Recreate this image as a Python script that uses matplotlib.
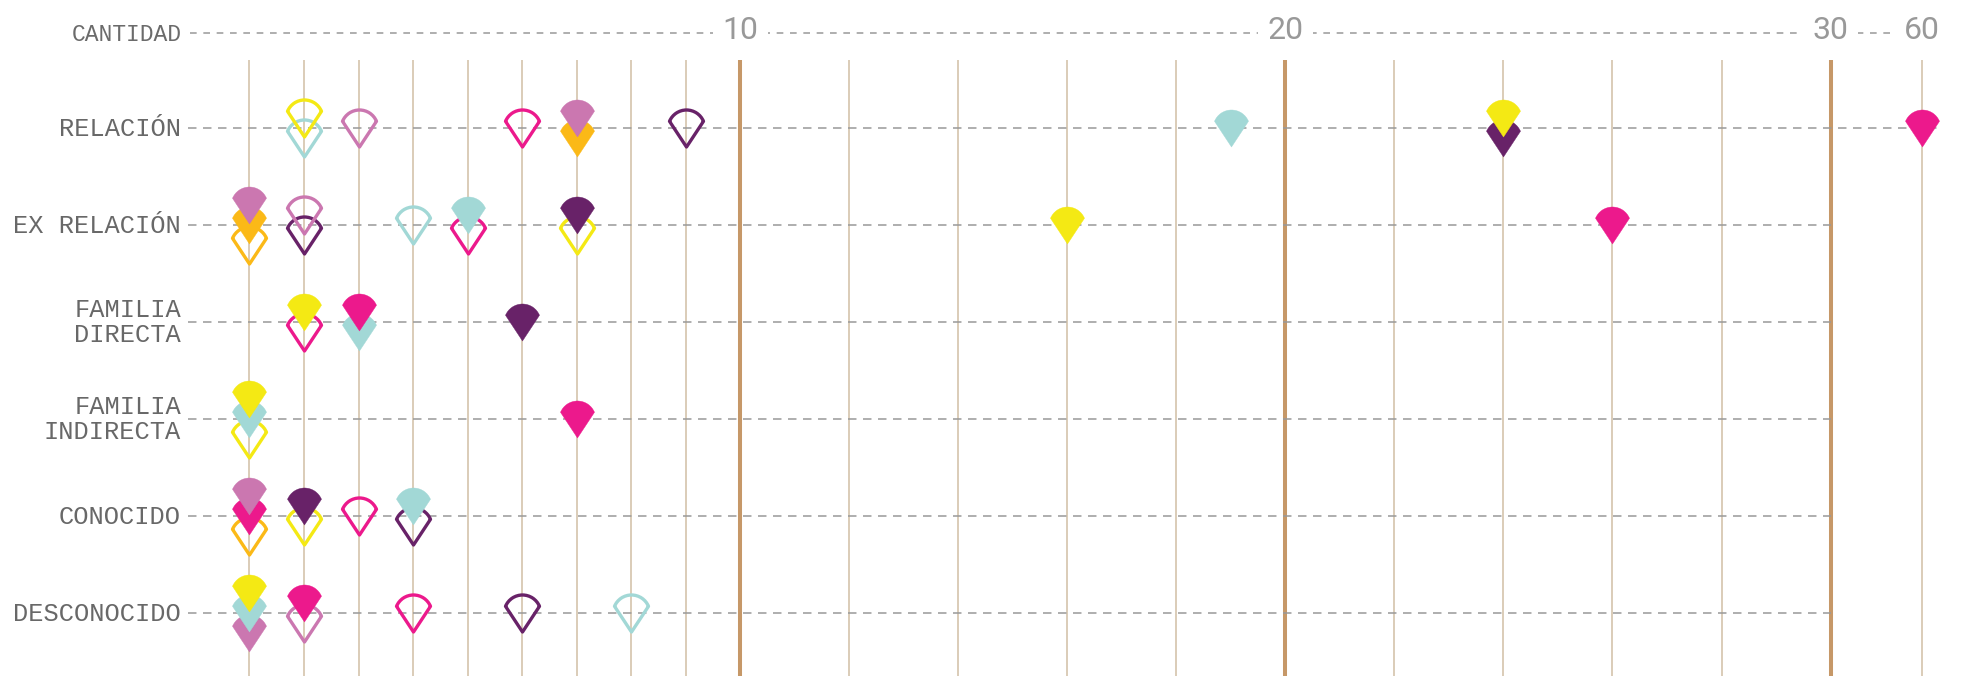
import numpy as np
import matplotlib
matplotlib.use("Agg")
import matplotlib.pyplot as plt
from matplotlib.path import Path

plt.rcParams["lines.scale_dashes"] = False

# ---- data -------------------------------------------------------------
categorias = ["RELACIÓN", "EX RELACIÓN", "FAMILIA\nDIRECTA",
              "FAMILIA\nINDIRECTA", "CONOCIDO", "DESCONOCIDO"]

colores = {
    "amarillo": "#f4e914",
    "naranja": "#fbb917",
    "fucsia": "#ec198c",
    "rosa": "#cb77b0",
    "turquesa": "#a2d8d6",
    "morado": "#682268",
}

# (cantidad, serie, relleno) -- within one value, listed from top of the stack to bottom
relacion = [(2, "amarillo", False), (2, "turquesa", False), (3, "rosa", False),
            (6, "fucsia", False), (7, "rosa", True), (7, "naranja", True),
            (9, "morado", False), (19, "turquesa", True), (24, "amarillo", True),
            (24, "morado", True), (60, "fucsia", True)]
ex_relacion = [(1, "rosa", True), (1, "naranja", True), (1, "naranja", False),
               (2, "rosa", False), (2, "morado", False), (4, "turquesa", False),
               (5, "turquesa", True), (5, "fucsia", False), (7, "morado", True),
               (7, "amarillo", False), (16, "amarillo", True), (26, "fucsia", True)]
familia_directa = [(2, "amarillo", True), (2, "fucsia", False), (3, "fucsia", True),
                   (3, "turquesa", True), (6, "morado", True)]
familia_indirecta = [(1, "amarillo", True), (1, "turquesa", True),
                     (1, "amarillo", False), (7, "fucsia", True)]
conocido = [(1, "rosa", True), (1, "fucsia", True), (1, "naranja", False),
            (2, "morado", True), (2, "amarillo", False), (3, "fucsia", False),
            (4, "turquesa", True), (4, "morado", False)]
desconocido = [(1, "amarillo", True), (1, "turquesa", True), (1, "rosa", True),
               (2, "fucsia", True), (2, "rosa", False), (4, "fucsia", False),
               (6, "morado", False), (8, "turquesa", False)]
filas = [relacion, ex_relacion, familia_directa, familia_indirecta, conocido, desconocido]

ticks_principales = [10, 20, 30, 60]
ticks_secundarios = [1, 2, 3, 4, 5, 6, 7, 8, 9, 12, 14, 16, 18, 22, 24, 26, 28, 60]

# ---- layout -----------------------------------------------------------
W, H, DPI = 1966, 676, 100
X1_PX, UNIT_PX = 249.5, 54.52      # pixel of value 1, pixels per unit
ROW0_PX, ROW_PX = 128, 97          # pixel of first row, pixels per row
CORTE, ANCHO_CORTE = 30, 1.68      # axis break: 30 -> 60 squeezed into 1.68 units


def xmap(v):
    v = np.asarray(v, dtype=float)
    return np.where(v <= CORTE, v, CORTE + ANCHO_CORTE * (v - CORTE) / 30.0)


def px_x(px):
    return 1 + (px - X1_PX) / UNIT_PX


def px_y(px):
    return (px - ROW0_PX) / ROW_PX


# pin marker: round top, pointed bottom
arc = Path.arc(22.7, 157.3)
verts = arc.vertices * 18.4 + np.array([0, 0.1])
verts = np.vstack([verts, [0, -18.5], verts[0]])
codes = list(arc.codes) + [Path.LINETO, Path.CLOSEPOLY]
pin = Path(verts, codes)
ms_pt = 2 * np.abs(verts).max() * 72 / DPI

fig = plt.figure(figsize=(W / DPI, H / DPI), dpi=DPI)
ax = fig.add_axes([0, 0, 1, 1])
ax.set_xlim(px_x(0), px_x(W))
ax.set_ylim(px_y(H), px_y(0))
ax.axis("off")

# vertical grid
top = px_y(60)
ax.vlines(xmap(ticks_secundarios), top, px_y(H), color="#d4c3ab", lw=1.2, zorder=1)
ax.vlines(xmap(ticks_principales[:3]), top, px_y(H), color="#c69868", lw=2.9, zorder=1)

# row lines + labels
fuente_mono = ["Liberation Mono", "DejaVu Sans Mono"]
for i, cat in enumerate(categorias):
    fin = px_x(1940) if i == 0 else CORTE
    ax.plot([px_x(188), fin], [i, i], color="#999999", lw=1.1, ls=(0, (6.1, 4.7)), zorder=2)
    if "\n" in cat:
        ax.text(px_x(181), i + 0.005, cat, ha="right", va="center", ma="right",
                fontsize=18.3, family=fuente_mono, color="#686868", linespacing=1.1)
    else:
        ax.text(px_x(181), i + px_y(ROW0_PX + 8.2), cat, ha="right", va="baseline",
                fontsize=18.3, family=fuente_mono, color="#686868")

# header
yh = px_y(33)
ax.plot([px_x(190), px_x(1897)], [yh, yh], color="#999999", lw=1.1,
        ls=(0, (4.8, 4.8)), zorder=2)
ax.text(px_x(182), px_y(41.5), "CANTIDAD", ha="right", va="baseline",
        fontsize=16.6, family=fuente_mono, color="#6b6b6b")
for t in ticks_principales:
    ax.text(xmap(t), px_y(39.5), str(t), ha="center", va="baseline",
            fontsize=23, family=["Roboto", "DejaVu Sans"], fontweight="normal",
            color="#999999", zorder=5,
            bbox=dict(boxstyle="square,pad=0.3", fc="white", ec="none"))

# markers, stacked vertically when they share a value
paso = px_y(ROW0_PX + 20)
for i, fila in enumerate(filas):
    valores = [p[0] for p in fila]
    for j, (v, serie, relleno) in enumerate(fila):
        grupo = [k for k, w in enumerate(valores) if w == v]
        n = len(grupo)
        pos = grupo.index(j)
        y = i + (pos - (n - 1) / 2) * paso
        c = colores[serie]
        ax.plot(xmap([v]), [y], ls="none", marker=pin, ms=ms_pt,
                mfc=c if relleno else "none", mec=c,
                mew=0.3 if relleno else 2.4, zorder=10 + n - pos)

fig.savefig("out.png", dpi=DPI, facecolor="white")
